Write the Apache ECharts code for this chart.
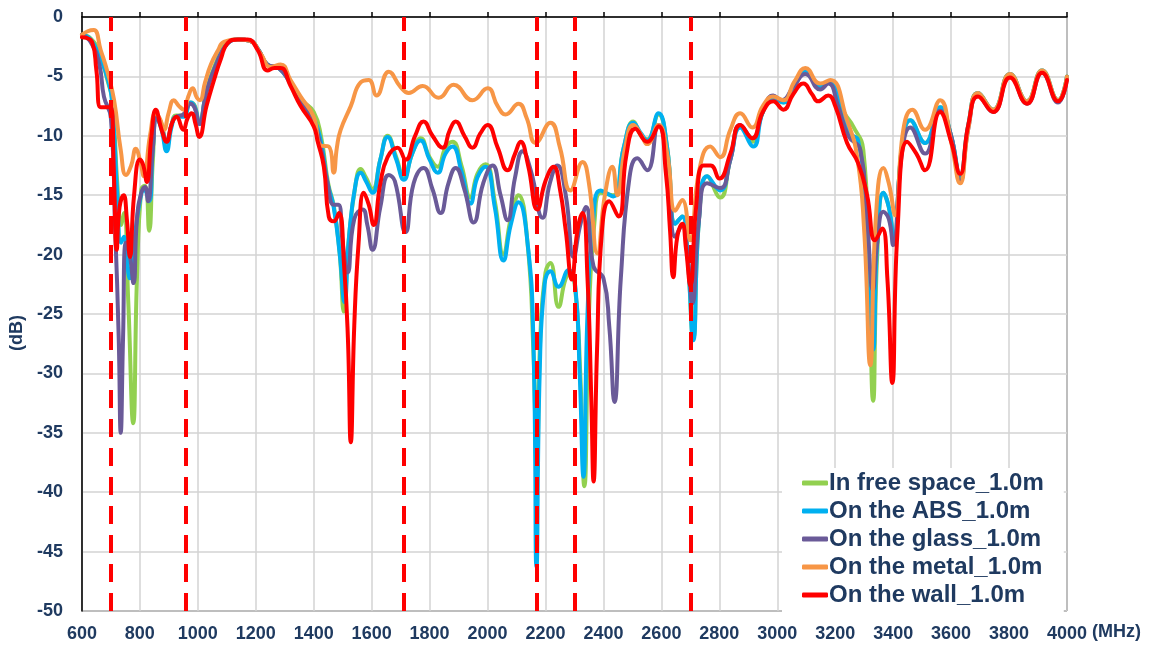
<!DOCTYPE html>
<html>
<head>
<meta charset="utf-8">
<script src="https://cdn.jsdelivr.net/npm/echarts@6/dist/echarts.min.js"></script>
<style>
  html, body { margin: 0; padding: 0; background: #fff; }
  #chart { width: 1150px; height: 648px; }
</style>
</head>
<body>
<div id="chart"></div>
<script>
// measured curves, [MHz, dB]
const freeSpace = [[600,-1.5],[630,-1.8],[660,-3],[690,-5.5],[705,-7],[722,-14],[735,-17.5],[745,-16.5],[760,-24],[777,-34.2],[790,-22],[805,-14.5],[818,-14.2],[832,-18],[845,-12],[858,-8.3],[875,-9],[892,-11],[910,-9],[925,-8.3],[950,-8.3],[975,-7.2],[990,-7.5],[1005,-9],[1030,-6.2],[1060,-4],[1100,-2.2],[1140,-1.9],[1180,-2],[1210,-2.8],[1240,-4],[1280,-4.3],[1320,-5.5],[1360,-7],[1400,-8],[1425,-10],[1450,-14],[1470,-16],[1490,-20],[1504,-24.8],[1520,-19],[1545,-14],[1562,-12.8],[1580,-13.5],[1603,-14.5],[1630,-12],[1655,-10],[1685,-11.8],[1711,-13.5],[1740,-11.5],[1769,-10.2],[1800,-11.8],[1828,-12.6],[1855,-11],[1879,-10.5],[1910,-12.5],[1941,-15.2],[1965,-13.2],[1993,-12.4],[2025,-15.5],[2055,-20],[2080,-17],[2107,-15],[2138,-19],[2158,-28],[2170,-38],[2182,-27],[2200,-21.5],[2217,-20.7],[2245,-24.4],[2270,-22],[2286,-21.6],[2303,-23],[2320,-30],[2334,-39.5],[2350,-25],[2370,-17],[2390,-14.8],[2434,-15],[2470,-11],[2503,-8.8],[2530,-10],[2551,-10.3],[2590,-8.2],[2620,-11],[2648,-17.4],[2672,-16.8],[2690,-20],[2710,-27],[2730,-17],[2758,-13.4],[2803,-15.2],[2838,-12],[2872,-9.2],[2914,-10.5],[2950,-8],[2986,-6.8],[3021,-7.2],[3060,-5.8],[3097,-4.5],[3148,-5.9],[3183,-5.4],[3230,-8],[3262,-9.2],[3297,-11.2],[3315,-20],[3331,-32.3],[3345,-20],[3366,-14.8],[3385,-16],[3403,-18.8],[3430,-11],[3459,-8.7],[3510,-10.6],[3562,-7.6],[3600,-10],[3631,-13.5],[3660,-9],[3693,-6.4],[3745,-7.8],[3803,-4.8],[3862,-7.1],[3914,-4.5],[3969,-7],[4000,-5]];

const onAbs = [[600,-1.5],[630,-1.9],[660,-3.3],[690,-5.3],[705,-7.5],[722,-15],[735,-19],[745,-18.5],[765,-22],[780,-19],[800,-15.5],[815,-14.5],[832,-15.5],[845,-11],[858,-8.5],[875,-9.5],[892,-11.3],[910,-9.2],[925,-8.4],[950,-8.4],[975,-7.2],[990,-7.6],[1005,-9],[1030,-6.3],[1060,-4.2],[1100,-2.3],[1140,-1.9],[1180,-2],[1210,-2.8],[1240,-4],[1280,-4.3],[1320,-5.6],[1360,-7],[1400,-8.5],[1425,-10.5],[1448,-14],[1469,-16],[1490,-20],[1506,-24],[1522,-18.5],[1545,-14],[1562,-13.1],[1580,-13.8],[1603,-14.8],[1630,-12],[1655,-10.1],[1685,-12],[1711,-13.7],[1740,-11.5],[1769,-10.4],[1800,-12],[1828,-13.1],[1855,-11.5],[1879,-10.9],[1910,-13],[1941,-15.7],[1965,-13.5],[1993,-12.6],[2025,-16],[2055,-20.5],[2080,-17.5],[2107,-15.6],[2138,-19],[2158,-27],[2169,-46.3],[2180,-30],[2197,-22.5],[2217,-21.4],[2245,-22.7],[2280,-21.3],[2303,-22.7],[2318,-30],[2331,-38.7],[2345,-25],[2365,-17],[2390,-14.6],[2434,-15.1],[2470,-11],[2503,-8.9],[2530,-9.8],[2551,-10.4],[2590,-8.1],[2620,-11],[2648,-17.4],[2672,-16.8],[2690,-20],[2710,-27.2],[2730,-17],[2758,-13.4],[2803,-14.6],[2838,-12],[2872,-9.3],[2917,-10.9],[2950,-8],[2986,-6.8],[3021,-7.2],[3060,-5.8],[3097,-4.5],[3148,-5.9],[3183,-5.4],[3220,-7.5],[3252,-9.8],[3279,-10.4],[3305,-16],[3331,-28],[3345,-19],[3366,-14.8],[3385,-16],[3403,-18.8],[3430,-11],[3459,-8.7],[3510,-10.6],[3562,-7.6],[3600,-10],[3631,-13.3],[3660,-9],[3693,-6.4],[3745,-7.8],[3803,-4.8],[3862,-7.1],[3914,-4.5],[3969,-7],[4000,-5]];

const onGlass = [[600,-1.5],[630,-2.1],[660,-4],[676,-6.7],[700,-8.5],[715,-18],[727,-27],[734,-35],[742,-27],[752,-19],[765,-20],[778,-22.4],[790,-17],[805,-14.8],[818,-14.3],[828,-15.5],[845,-11],[858,-8.5],[875,-9.3],[892,-10.5],[910,-9],[925,-8.4],[950,-8.2],[975,-7.3],[990,-7.7],[1005,-9],[1030,-6.3],[1060,-4.2],[1100,-2.3],[1140,-1.9],[1180,-2],[1210,-2.8],[1240,-4],[1280,-4.3],[1320,-5.6],[1360,-7.2],[1400,-8.8],[1425,-11],[1448,-14],[1469,-15.8],[1485,-15.8],[1500,-19],[1517,-21.5],[1540,-17],[1569,-16.2],[1585,-17.5],[1603,-19.6],[1630,-16],[1659,-13.3],[1680,-13.8],[1717,-18.1],[1745,-14],[1779,-12.7],[1810,-14.5],[1838,-16.5],[1865,-14],[1890,-12.7],[1920,-14.5],[1952,-17.3],[1985,-14],[2017,-12.5],[2045,-15],[2069,-17.1],[2095,-13.5],[2121,-11.3],[2150,-13],[2190,-16.9],[2215,-14],[2241,-12.5],[2270,-15],[2297,-20.2],[2320,-17.5],[2340,-16],[2366,-21],[2400,-22],[2420,-26],[2438,-32.4],[2460,-22],[2490,-13.5],[2517,-11.9],[2551,-12.9],[2590,-9.1],[2620,-12],[2648,-18.5],[2672,-17.5],[2690,-20],[2707,-24.1],[2730,-17],[2758,-14],[2803,-14.4],[2838,-12],[2872,-9.1],[2914,-10.2],[2950,-8],[2986,-6.6],[3014,-7],[3060,-5.7],[3097,-4.8],[3148,-6.1],[3176,-5.6],[3210,-7.5],[3245,-10],[3287,-11.2],[3310,-17],[3330,-23],[3345,-19],[3366,-16.4],[3385,-17],[3400,-19.2],[3430,-11.5],[3459,-9.3],[3510,-11.5],[3562,-7.9],[3600,-10],[3631,-13.8],[3660,-9.3],[3693,-6.6],[3745,-8],[3803,-4.9],[3862,-7.3],[3914,-4.7],[3969,-7.2],[4000,-5.2]];

const onMetal = [[600,-1.5],[620,-1.2],[641,-1.1],[665,-2.8],[689,-4.7],[711,-7],[734,-11.2],[752,-13.3],[770,-12.5],[786,-11.1],[800,-12],[814,-13.4],[835,-10],[855,-8.1],[870,-8.6],[883,-9.5],[900,-8],[917,-7],[935,-7.5],[952,-7.8],[967,-6.7],[982,-6],[997,-6.8],[1007,-7],[1025,-5.5],[1045,-4],[1070,-2.8],[1090,-2.1],[1140,-1.9],[1180,-2],[1217,-3.1],[1252,-4.2],[1286,-4],[1320,-5.3],[1355,-6.7],[1400,-8.4],[1424,-10.8],[1452,-10.9],[1469,-13.1],[1480,-11],[1493,-9.5],[1528,-7.5],[1562,-5.5],[1590,-5.3],[1617,-6.6],[1659,-4.6],[1700,-5.9],[1728,-6.4],[1776,-5.8],[1831,-6.8],[1883,-5.7],[1948,-7],[2000,-6],[2035,-7.5],[2062,-8.2],[2107,-7.3],[2135,-8.5],[2166,-10.6],[2217,-8.9],[2250,-11],[2286,-14.6],[2328,-12.2],[2350,-14],[2379,-19.9],[2405,-15],[2431,-12.6],[2448,-15],[2475,-11],[2503,-9.1],[2530,-9.9],[2551,-10.7],[2590,-9.1],[2620,-11.5],[2648,-16.3],[2672,-15.4],[2700,-18.8],[2730,-13],[2769,-10.9],[2803,-11.8],[2838,-9.5],[2872,-8.1],[2914,-9.3],[2950,-7.5],[2986,-6.7],[3021,-7],[3060,-5.4],[3097,-4.3],[3148,-5.6],[3183,-5.3],[3241,-8.7],[3276,-11.8],[3300,-18],[3321,-29.3],[3340,-17],[3366,-12.7],[3385,-14],[3407,-16.7],[3435,-9.5],[3466,-7.8],[3510,-9.5],[3562,-7],[3600,-10.5],[3631,-14],[3660,-9.3],[3693,-6.4],[3745,-7.8],[3803,-4.8],[3862,-7.1],[3914,-4.5],[3969,-7],[4000,-5]];

const onWall = [[600,-1.7],[635,-2.1],[650,-4.5],[665,-7.6],[700,-7.6],[710,-13],[720,-19.6],[730,-16],[744,-15],[755,-17],[766,-20.2],[780,-15],[800,-12],[812,-12.5],[824,-13.9],[840,-10],[855,-7.8],[875,-9.5],[892,-10.5],[910,-9],[926,-8.4],[950,-9.5],[965,-8.5],[979,-8.1],[992,-9],[1005,-10.1],[1030,-7.5],[1056,-5.3],[1080,-3.5],[1103,-2.2],[1138,-1.9],[1172,-1.9],[1207,-2.8],[1241,-4.5],[1265,-4.3],[1286,-4.3],[1320,-5.8],[1355,-7.5],[1400,-9.2],[1414,-10.5],[1435,-12.6],[1452,-16.8],[1469,-17.2],[1487,-16.5],[1505,-21],[1518,-27],[1528,-35.8],[1540,-26],[1555,-19],[1573,-14.8],[1590,-15.8],[1607,-17.5],[1630,-14],[1655,-11.8],[1689,-11],[1717,-12],[1750,-10],[1779,-8.8],[1810,-10],[1845,-11],[1870,-9.5],[1890,-8.8],[1920,-10],[1948,-11],[1975,-9.8],[2000,-9.1],[2035,-11],[2069,-12.9],[2095,-11.5],[2114,-10.5],[2140,-12.5],[2172,-16.2],[2200,-13.8],[2228,-12.6],[2250,-14.5],[2270,-18],[2291,-22.1],[2310,-18],[2328,-16.5],[2345,-22],[2358,-32],[2366,-39.1],[2378,-28],[2395,-18],[2420,-15.5],[2452,-16.8],[2480,-11.5],[2510,-9.4],[2551,-10.5],[2590,-9.2],[2615,-13],[2630,-18],[2641,-21.9],[2655,-18.5],[2672,-17.4],[2685,-19.5],[2700,-22.6],[2720,-16],[2745,-12.5],[2770,-12.5],[2800,-13.6],[2838,-11.5],[2872,-9.1],[2914,-10.2],[2950,-8],[2986,-7.1],[3021,-7.8],[3055,-6.5],[3090,-5.6],[3120,-6.5],[3141,-7.1],[3176,-6.6],[3200,-7.5],[3241,-10.6],[3279,-12.3],[3310,-15],[3338,-18.8],[3362,-17.8],[3380,-22],[3397,-30.8],[3415,-18],[3448,-10.5],[3480,-11.5],[3510,-12.9],[3562,-8],[3600,-10.5],[3631,-13.2],[3660,-9],[3693,-6.7],[3745,-8],[3803,-5.1],[3862,-7.3],[3914,-4.7],[3969,-7.1],[4000,-5.3]];

const seriesNames = ['In free space_1.0m', 'On the ABS_1.0m', 'On the glass_1.0m', 'On the metal_1.0m', 'On the wall_1.0m'];
const seriesColors = ['#92D050', '#00B0F0', '#6A5A98', '#F79646', '#FF0000'];
const seriesData = [freeSpace, onAbs, onGlass, onMetal, onWall];

// band edges (MHz)
const bandEdges = [698, 960, 1710, 2170, 2300, 2700];

const labelColor = '#1F3A60';
const fontFam = '"Liberation Sans", Arial, sans-serif';

const chart = echarts.init(document.getElementById('chart'));

const series = seriesNames.map((name, i) => ({
    name: name,
    type: 'line',
    data: seriesData[i],
    smooth: 0.5,
    symbol: 'none',
    lineStyle: { color: seriesColors[i], width: 4, cap: 'round', join: 'round' },
    itemStyle: { color: seriesColors[i] }
}));

// dashed band markers on top
series.push({
    name: 'bands',
    type: 'line',
    data: [],
    silent: true,
    markLine: {
        symbol: 'none',
        silent: true,
        label: { show: false },
        lineStyle: { color: '#FF0000', width: 4, type: [18, 11] },
        data: bandEdges.map(v => ({ xAxis: v }))
    }
});

const option = {
    animation: false,
    grid: {
        left: 81, right: 83, top: 17, bottom: 37,
        show: true, borderColor: '#000', borderWidth: 1
    },
    xAxis: {
        type: 'value',
        min: 600, max: 4000, interval: 200,
        axisLine: { lineStyle: { color: '#000', width: 1.5 } },
        axisTick: { show: true, inside: true, length: 5, lineStyle: { color: '#000', width: 1.5 } },
        axisLabel: { color: labelColor, fontSize: 18, fontWeight: 'bold', fontFamily: fontFam, margin: 14, formatter: v => String(v) },
        splitLine: { lineStyle: { color: '#D3D3D3', width: 1.5 } }
    },
    yAxis: {
        type: 'value',
        min: -50, max: 0, interval: 5,
        name: '(dB)',
        nameLocation: 'middle',
        nameGap: 46,
        nameTextStyle: { color: labelColor, fontSize: 18, fontWeight: 'bold', fontFamily: fontFam, padding: [0, 38, 0, 0] },
        axisLine: { show: true, lineStyle: { color: '#000', width: 1.5 } },
        axisTick: { show: false },
        axisLabel: { color: labelColor, fontSize: 18, fontWeight: 'bold', fontFamily: fontFam, margin: 19 },
        splitLine: { lineStyle: { color: '#D3D3D3', width: 1.5 } }
    },
    graphic: [{
        type: 'text',
        left: 1092, top: 623,
        style: { text: '(MHz)', fill: labelColor, font: 'bold 18px "Liberation Sans", Arial, sans-serif' }
    }],
    legend: {
        data: seriesNames,
        orient: 'vertical',
        left: 782, top: 468,
        backgroundColor: '#fff',
        padding: [3, 20, 6, 20],
        itemGap: 4,
        icon: 'roundRect',
        itemWidth: 26, itemHeight: 5,
        textStyle: { color: labelColor, fontSize: 24, fontWeight: 'bold', fontFamily: fontFam, lineHeight: 24, padding: [0, 0, 0, -4] }
    },
    series: series
};

chart.setOption(option);
window.addEventListener('resize', () => chart.resize());
</script>
</body>
</html>
